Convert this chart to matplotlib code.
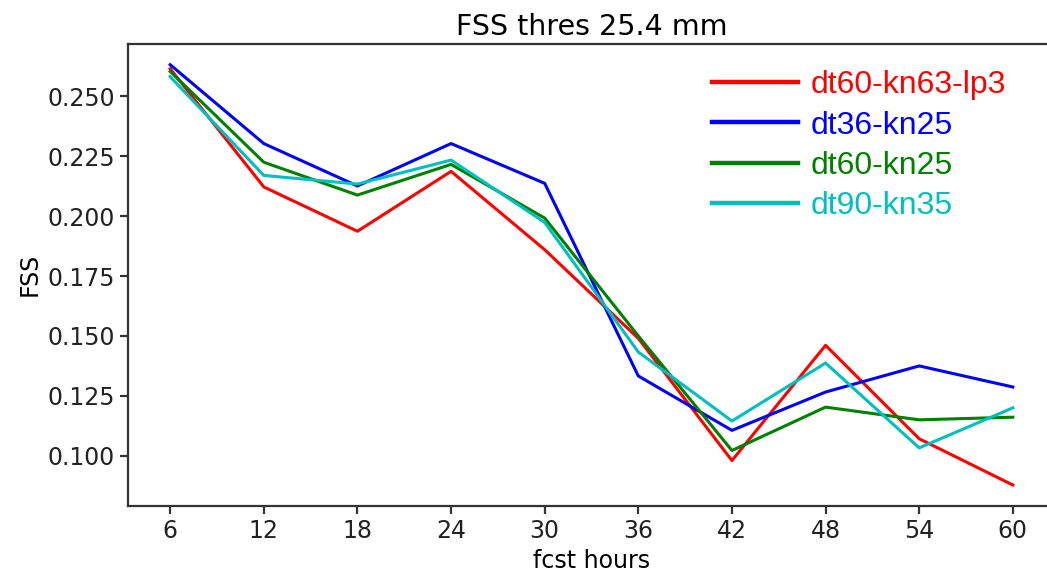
import matplotlib
matplotlib.use('Agg')
import matplotlib.pyplot as plt

# forecast hours and FSS values
hours = [6, 12, 18, 24, 30, 36, 42, 48, 54, 60]
fss_dt60_kn63_lp3 = [0.2615, 0.2122, 0.1937, 0.2187, 0.1860, 0.1490, 0.0980, 0.1461, 0.1071, 0.0878]
fss_dt36_kn25 = [0.2632, 0.2303, 0.2126, 0.2303, 0.2137, 0.1333, 0.1106, 0.1266, 0.1375, 0.1287]
fss_dt60_kn25 = [0.2604, 0.2225, 0.2088, 0.2216, 0.1992, 0.1500, 0.1022, 0.1203, 0.1150, 0.1161]
fss_dt90_kn35 = [0.2582, 0.2170, 0.2134, 0.2234, 0.1974, 0.1433, 0.1145, 0.1387, 0.1033, 0.1200]

names = ['dt60-kn63-lp3', 'dt36-kn25', 'dt60-kn25', 'dt90-kn35']
colors = ['r', 'b', 'g', 'c']

plt.rcParams['font.size'] = 17
plt.rcParams['axes.linewidth'] = 1.6
plt.rcParams['axes.edgecolor'] = '#333333'
plt.rcParams['xtick.color'] = '#333333'
plt.rcParams['ytick.color'] = '#333333'
plt.rcParams['xtick.labelcolor'] = '#222222'
plt.rcParams['ytick.labelcolor'] = '#222222'
plt.rcParams['xtick.major.size'] = 6
plt.rcParams['ytick.major.size'] = 6
plt.rcParams['xtick.major.width'] = 1.6
plt.rcParams['ytick.major.width'] = 1.6

fig = plt.figure(figsize=(10.47, 5.76), dpi=100)
ax = fig.add_axes([0.1223, 0.1215, 0.8853, 0.8026])

series = [fss_dt60_kn63_lp3, fss_dt36_kn25, fss_dt60_kn25, fss_dt90_kn35]
for vals, name, col in zip(series, names, colors):
    ax.plot(hours, vals, color=col, lw=2.2, label=name)

ax.set_xticks(hours)
ax.set_xlabel('fcst hours')
ax.set_ylabel('FSS')
ax.set_title('FSS thres 25.4 mm', fontsize=20.5)

leg = ax.legend(loc='upper left', bbox_to_anchor=(0.6676, 0.90),
                bbox_transform=fig.transFigure, borderaxespad=0,
                frameon=False, handlelength=2.7, handletextpad=0.38,
                labelspacing=0.32, prop={'family': 'Liberation Sans', 'size': 23})
for line, text, col in zip(leg.get_lines(), leg.get_texts(), colors):
    line.set_linewidth(3.2)
    text.set_color(col)

fig.savefig('out.png', dpi=100)
